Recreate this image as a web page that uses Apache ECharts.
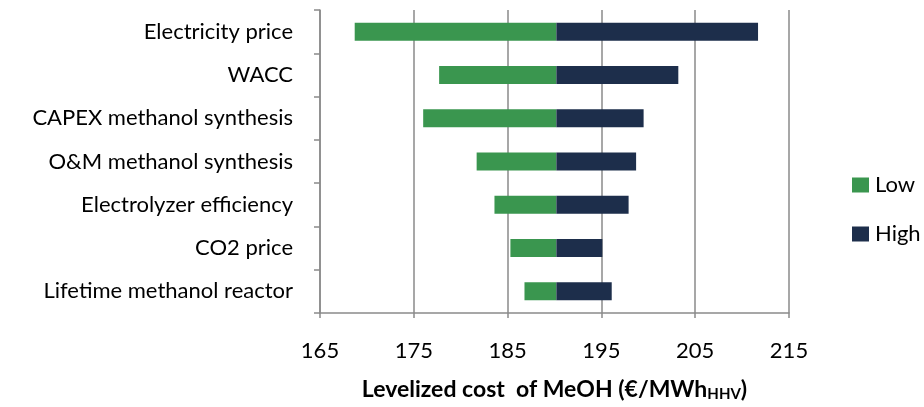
<!DOCTYPE html>
<html>
<head>
<meta charset="utf-8">
<script src="https://cdn.jsdelivr.net/npm/echarts@6/dist/echarts.min.js"></script>
<style>
  html, body { margin: 0; padding: 0; background: #ffffff; }
  #chart { width: 924px; height: 407px; }
</style>
</head>
<body>
<div id="chart"></div>
<script>
// Sensitivity of the levelized cost of methanol to each input parameter
const categories = [
  'Electricity price',
  'WACC',
  'CAPEX methanol synthesis',
  'O&M methanol synthesis',
  'Electrolyzer efficiency',
  'CO2 price',
  'Lifetime methanol reactor'
];
const baseCost = 190.2;                                          // €/MWh_HHV, reference case
const lowValues  = [168.7, 177.7, 176.0, 181.7, 183.6, 185.3, 186.8];
const highValues = [211.7, 203.2, 199.5, 198.7, 197.9, 195.1, 196.1];
const xTicks = { min: 165, max: 215, interval: 10 };

const FONT = 'Lato, "Open Sans", sans-serif';
const GRID_GREY = '#8a8a8a';
const round2 = v => Math.round(v * 100) / 100;

// Stacked bars: an invisible offset up to the low value, then the low span and the high span
const offset = lowValues.slice();
const lowSpan = lowValues.map(v => round2(baseCost - v));
const highSpan = highValues.map(v => round2(v - baseCost));

const chart = echarts.init(document.getElementById('chart'), null, { renderer: 'canvas' });
chart.setOption({
  animation: false,
  backgroundColor: '#ffffff',
  textStyle: { fontFamily: FONT },
  grid: { left: 320, right: 135, top: 10, bottom: 94, containLabel: false },
  legend: {
    orient: 'vertical',
    left: 852,
    top: 174,
    itemGap: 27,
    itemWidth: 17,
    itemHeight: 15,
    icon: 'rect',
    padding: 0,
    data: ['Low', 'High'],
    textStyle: { fontFamily: FONT, fontSize: 22, color: '#000000', padding: [0, 0, 0, 1] }
  },
  xAxis: {
    type: 'value',
    min: xTicks.min,
    max: xTicks.max,
    interval: xTicks.interval,
    axisLine: { show: true, lineStyle: { color: GRID_GREY, width: 1.5 } },
    axisTick: { show: true, length: 5, lineStyle: { color: GRID_GREY, width: 1.5 } },
    axisLabel: { fontFamily: FONT, fontSize: 22, color: '#000000', margin: 27 },
    splitLine: { show: true, lineStyle: { color: GRID_GREY, width: 1.5 } },
    name: '{b|Levelized cost  of MeOH (€/MWh}{s|HHV}{b|)}',
    nameLocation: 'middle',
    nameGap: 64,
    nameTextStyle: {
      rich: {
        b: { fontFamily: FONT, fontSize: 23, fontWeight: 'bold', color: '#000000' },
        s: { fontFamily: FONT, fontSize: 15, fontWeight: 'bold', color: '#000000', verticalAlign: 'bottom', padding: [10, 0, 0, 0] }
      }
    }
  },
  yAxis: {
    type: 'category',
    data: categories,
    inverse: true,
    axisLine: { show: true, lineStyle: { color: GRID_GREY, width: 1.5 } },
    axisTick: { show: true, length: 6, lineStyle: { color: GRID_GREY, width: 1.5 } },
    axisLabel: { fontFamily: FONT, fontSize: 22, color: '#000000', margin: 27 },
    splitLine: { show: false }
  },
  series: [
    {
      name: 'offset',
      type: 'bar',
      stack: 'tornado',
      data: offset,
      barWidth: 18,
      itemStyle: { color: 'rgba(0,0,0,0)' },
      emphasis: { disabled: true },
      silent: true
    },
    {
      name: 'Low',
      type: 'bar',
      stack: 'tornado',
      data: lowSpan,
      barWidth: 18,
      itemStyle: { color: '#3a964f' }
    },
    {
      name: 'High',
      type: 'bar',
      stack: 'tornado',
      data: highSpan,
      barWidth: 18,
      itemStyle: { color: '#1d2e4b' }
    }
  ]
});
</script>
</body>
</html>
